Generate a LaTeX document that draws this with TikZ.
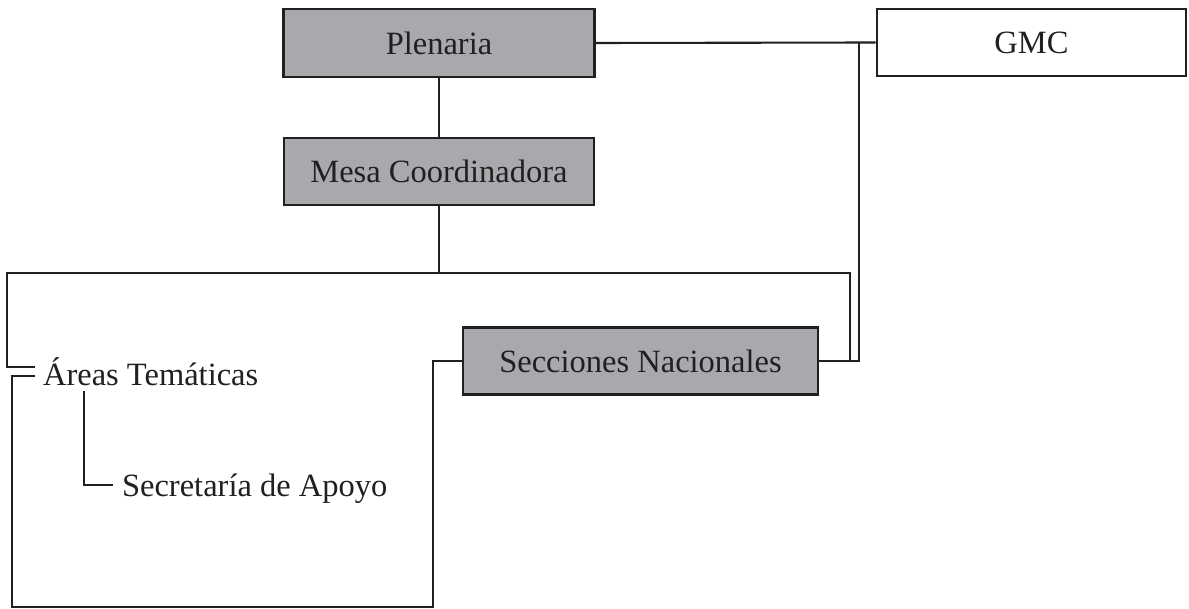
\documentclass[tikz,border=0pt]{standalone}
\usepackage{fontspec}
\setmainfont{Liberation Serif}
\begin{document}
\begin{tikzpicture}[x=1pt,y=-1pt,
  line width=2.1pt,
  every node/.style={font=\fontsize{32.5}{38}\selectfont, text=txt},
  graybox/.style={draw=ln, fill=boxgray, line width=2.6pt, minimum width=311pt, minimum height=68pt, inner sep=0pt},
  whitebox/.style={draw=ln, fill=white, line width=2.6pt, minimum width=309pt, minimum height=67pt, inner sep=0pt},
  plain/.style={inner sep=0pt},
  conn/.style={draw=ln, line width=2.1pt}]
\definecolor{ln}{RGB}{35,31,32}
\definecolor{txt}{RGB}{35,31,32}
\definecolor{boxgray}{RGB}{168,169,173}
\useasboundingbox (0,0) rectangle (1189,609);

\node[graybox] (plen) at (439,43) {Plenaria};
\node[graybox, minimum width=310pt, minimum height=67pt] (mesa) at (439,171.5) {Mesa Coordinadora};
\node[whitebox] (gmc) at (1031.5,42.5) {GMC};
\node[graybox, minimum width=355pt, minimum height=67pt] (secc) at (640.5,361) {Secciones Nacionales};
\node[plain, anchor=west] (areas) at (42,372) {Áreas Temáticas};
\node[plain, anchor=west] (secr) at (121,489) {Secretaría de Apoyo};

\coordinate (jg) at (859,42);
\coordinate (jm) at (439,273);
\coordinate (jr) at (850,273);
\coordinate (jl) at (7,273);
\coordinate (at1) at (35,367);
\coordinate (at2) at (35,376);
\coordinate (bl) at (12,607);
\coordinate (br) at (433,607);
\coordinate (ats) at (84,391);
\coordinate (se) at (113,485);

\draw[conn] (plen.east) -- (gmc.west);
\draw[conn] (plen.south) -- (mesa.north);
\draw[conn] (mesa.south) -- (jm);
\draw[conn] (secc.east) -- (jg |- secc.east) -- (jg);
\draw[conn] (jr |- secc.east) -- (jr) -- (jl) |- (at1);
\draw[conn] (at2) -| (bl) -- (br) |- (secc.west);
\draw[conn] (ats) |- (se);
\end{tikzpicture}
\end{document}
